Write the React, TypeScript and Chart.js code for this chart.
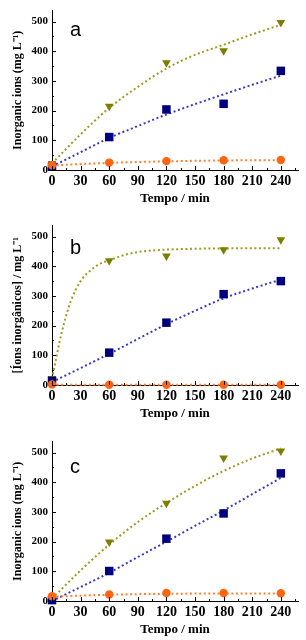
import React, { useEffect, useRef } from "react";
import { Chart, registerables } from "chart.js";
Chart.register(...registerables);

// ---- data ----
const sampleTimes = [0, 60, 120, 180, 240];
const fitTimes = [0, 30, 60, 90, 120, 150, 180, 210, 240];
const fitTimesFast = [0, 5, 10, 15, 20, 30, 40, 50, 60, 75, 90, 120, 150, 180, 210, 240];

// panel a
const aTriangles = [22, 215, 361, 402, 497];
const aSquares = [11, 111, 204, 223, 334];
const aCircles = [16, 25, 30, 33, 34];
const aFitTriangles = [22, 120, 209, 280, 342, 388, 422, 457, 489];
const aFitSquares = [12, 60, 108, 148, 187, 222, 255, 287, 318];
const aFitCircles = [15, 20, 24, 27, 29, 31, 32, 33, 33];

// panel b
const bTriangles = [22, 419, 435, 456, 489];
const bSquares = [14, 109, 210, 306, 350];
const bCircles = [2, 1, 1, 1, 1];
const bFitTriangles = [20, 100, 175, 235, 285, 350, 385, 408, 420, 437, 448, 456, 459, 460, 461, 461];
const bFitSquares = [10, 57, 105, 155, 205, 250, 292, 325, 355];
const bFitCircles = [1, 1, 1, 1, 1, 1, 1, 1, 1];

// panel c
const cTriangles = [12, 199, 329, 482, 505];
const cSquares = [3, 101, 210, 295, 430];
const cCircles = [16, 22, 27, 27, 26];
const cFitTriangles = [8, 103, 190, 266, 330, 388, 438, 480, 514];
const cFitSquares = [0, 47, 95, 148, 200, 253, 305, 360, 415];
const cFitCircles = [14, 18, 21, 23, 24, 25, 25, 25, 25];

// axes
const xMajorTicks = [0, 30, 60, 90, 120, 150, 180, 210, 240];
const xMinorTicks = [15, 45, 75, 105, 135, 165, 195, 225, 255];
const yMajorTicks = [0, 100, 200, 300, 400, 500];
const yMinorTicks = [50, 150, 250, 350, 450];
const xTitle = "Tempo / min";
const yTitleEn = "Inorganic ions (mg L\u207B\u00B9)";
const yTitlePt = "[\u00CDons inorg\u00E2nicos] / mg L\u207B\u00B9";

const C_TRI = "#7d7d00";
const C_TRI_LINE = "#9c9c22";
const C_SQ = "#00007f";
const C_SQ_LINE = "#3a3ac8";
const C_CIR = "#ff6410";
const C_CIR_LINE = "#ff8030";

const SERIF = '"Liberation Serif", "Times New Roman", serif';

const pts = (ts: number[], vs: number[]) => ts.map((t, i) => ({ x: t, y: vs[i] }));

const innerTicks = {
  id: "innerTicks",
  afterDraw(chart: any) {
    const { ctx, chartArea, scales } = chart;
    const x = scales.x, y = scales.y;
    ctx.save();
    ctx.strokeStyle = "#000";
    ctx.lineWidth = 1;
    ctx.beginPath();
    const xt = (v: number, len: number) => {
      const px = Math.round(x.getPixelForValue(v)) + 0.5;
      ctx.moveTo(px, chartArea.bottom);
      ctx.lineTo(px, chartArea.bottom - len);
    };
    const yt = (v: number, len: number) => {
      const py = Math.round(y.getPixelForValue(v)) + 0.5;
      ctx.moveTo(chartArea.left, py);
      ctx.lineTo(chartArea.left + len, py);
    };
    xMajorTicks.forEach((v) => xt(v, 4));
    xMinorTicks.forEach((v) => xt(v, 2));
    yMajorTicks.forEach((v) => yt(v, 4));
    yMinorTicks.forEach((v) => yt(v, 2));
    ctx.stroke();
    ctx.restore();
  },
};

const panelLetter = {
  id: "panelLetter",
  afterDraw(chart: any, _args: any, opts: any) {
    const { ctx, chartArea } = chart;
    ctx.save();
    ctx.fillStyle = "#000";
    ctx.font = '20px "Liberation Sans", Arial, sans-serif';
    ctx.textAlign = "left";
    ctx.textBaseline = "alphabetic";
    ctx.fillText(opts.text, chartArea.left + opts.dx, chartArea.top + opts.dy);
    ctx.restore();
  },
};

type PanelProps = {
  top: number;
  letter: string;
  letterDy: number;
  yTitle: string;
  tri: number[];
  sq: number[];
  cir: number[];
  fitTri: number[];
  fitTriTimes: number[];
  fitSq: number[];
  fitCir: number[];
};

function Panel(p: PanelProps) {
  const ref = useRef<HTMLCanvasElement>(null);
  useEffect(() => {
    const markerBase = { showLine: false, clip: false as any, borderWidth: 0 };
    const lineBase = {
      pointRadius: 0,
      borderWidth: 2,
      borderDash: [2, 2.6],
      fill: false,
      cubicInterpolationMode: "monotone" as const,
      clip: false as any,
    };
    const chart = new Chart(ref.current!, {
      type: "line",
      data: {
        datasets: [
          { ...markerBase, data: pts(sampleTimes, p.cir), pointStyle: "circle", pointRadius: 4.2, backgroundColor: C_CIR, borderColor: C_CIR, order: 0 },
          { ...markerBase, data: pts(sampleTimes, p.sq), pointStyle: "rect", pointRadius: 6, backgroundColor: C_SQ, borderColor: C_SQ, order: 1 },
          { ...markerBase, data: pts(sampleTimes, p.tri), pointStyle: "triangle", pointRotation: 180, pointRadius: 5, backgroundColor: C_TRI, borderColor: C_TRI, order: 2 },
          { ...lineBase, data: pts(fitTimes, p.fitCir), borderColor: C_CIR_LINE, order: 3 },
          { ...lineBase, data: pts(fitTimes, p.fitSq), borderColor: C_SQ_LINE, order: 4 },
          { ...lineBase, data: pts(p.fitTriTimes, p.fitTri), borderColor: C_TRI_LINE, order: 5 },
        ] as any,
      },
      options: {
        responsive: false,
        animation: false,
        devicePixelRatio: 1,
        layout: { padding: { top: 5, right: 8, bottom: 4, left: 0 } },
        plugins: {
          legend: { display: false },
          tooltip: { enabled: false },
          panelLetter: { text: p.letter, dx: 18, dy: p.letterDy },
        } as any,
        scales: {
          x: {
            type: "linear",
            min: 0,
            max: 258,
            afterBuildTicks: (s: any) => {
              s.ticks = xMajorTicks.map((v) => ({ value: v }));
            },
            afterFit: (s: any) => {
              s.height = 36;
            },
            grid: { drawOnChartArea: false, drawTicks: false },
            border: { display: true, color: "#000", width: 1 },
            ticks: { color: "#000", padding: 3, maxRotation: 0, font: { family: SERIF, size: 14, weight: "bold" } },
            title: { display: true, text: xTitle, color: "#000", padding: { top: 0, bottom: 0 }, font: { family: SERIF, size: 13, weight: "bold" } },
          },
          y: {
            type: "linear",
            min: 0,
            max: 537,
            afterBuildTicks: (s: any) => {
              s.ticks = yMajorTicks.map((v) => ({ value: v }));
            },
            afterFit: (s: any) => {
              s.width = 52;
            },
            grid: { drawOnChartArea: false, drawTicks: false },
            border: { display: true, color: "#000", width: 1 },
            ticks: { color: "#000", padding: 4, font: { family: SERIF, size: 11, weight: "bold" } },
            title: { display: true, text: p.yTitle, color: "#000", padding: { top: 11, bottom: 0 }, font: { family: SERIF, size: 12, weight: "bold" } },
          },
        } as any,
      },
      plugins: [innerTicks, panelLetter] as any,
    });
    return () => chart.destroy();
  }, []);
  return (
    <div style={{ position: "absolute", left: 0, top: p.top, width: 306, height: 210 }}>
      <canvas ref={ref} width={306} height={210} style={{ display: "block", width: 306, height: 210 }} />
    </div>
  );
}

export default function App() {
  return (
    <div style={{ position: "absolute", left: 0, top: 0, width: 306, height: 640, background: "#fff" }}>
      <Panel top={0} letter="a" letterDy={25} yTitle={yTitleEn} tri={aTriangles} sq={aSquares} cir={aCircles}
        fitTri={aFitTriangles} fitTriTimes={fitTimes} fitSq={aFitSquares} fitCir={aFitCircles} />
      <Panel top={215} letter="b" letterDy={28} yTitle={yTitlePt} tri={bTriangles} sq={bSquares} cir={bCircles}
        fitTri={bFitTriangles} fitTriTimes={fitTimesFast} fitSq={bFitSquares} fitCir={bFitCircles} />
      <Panel top={431} letter="c" letterDy={31} yTitle={yTitleEn} tri={cTriangles} sq={cSquares} cir={cCircles}
        fitTri={cFitTriangles} fitTriTimes={fitTimes} fitSq={cFitSquares} fitCir={cFitCircles} />
    </div>
  );
}
